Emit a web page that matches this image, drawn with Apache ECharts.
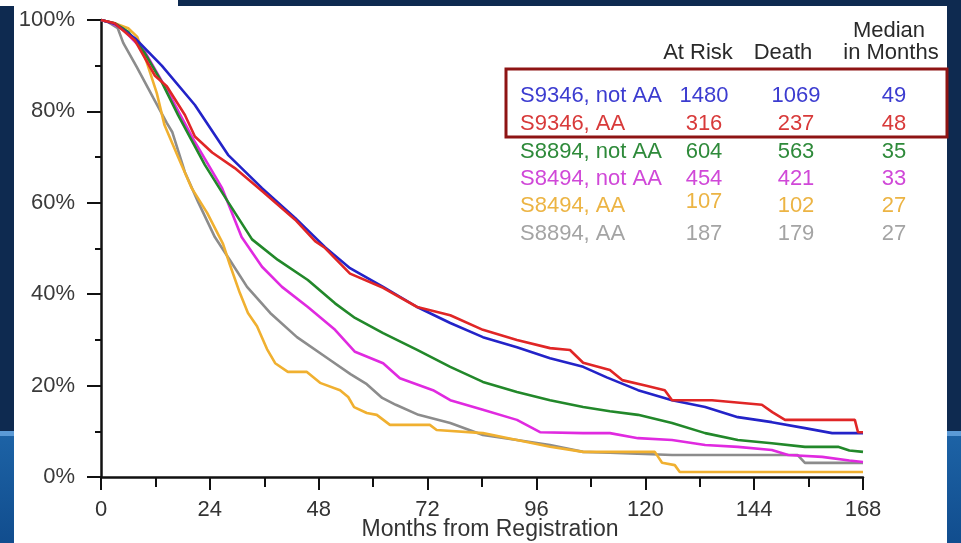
<!DOCTYPE html>
<html>
<head>
<meta charset="utf-8">
<script src="https://cdn.jsdelivr.net/npm/echarts@6/dist/echarts.min.js"></script>
<style>
html, body { margin: 0; padding: 0; background: #fff; }
#main { width: 961px; height: 543px; }
</style>
</head>
<body>
<div id="main"></div>
<script>
var FONT = '"Liberation Sans", Arial, sans-serif';

// table
var groups = ['S9346, not AA', 'S9346, AA', 'S8894, not AA', 'S8494, not AA', 'S8494, AA', 'S8894, AA'];
var atRisk = [1480, 316, 604, 454, 107, 187];
var deaths = [1069, 237, 563, 421, 102, 179];
var medians = [49, 48, 35, 33, 27, 27];
var headers = ['At Risk', 'Death', 'Median', 'in Months'];
var xName = 'Months from Registration';

// survival curves [month, % alive]
var s9346NotAA = [[0,100],[3,99.2],[7.5,96],[13.4,90],[20.7,81.4],[28,70.5],[35.5,63.2],[42.8,56.7],[49.4,50.3],[54.9,45.7],[62.2,41.6],[69.7,37.2],[77,33.7],[84.2,30.6],[91.7,28.4],[99,26],[106.3,24.1],[111.5,21.8],[118.4,19],[125.9,16.8],[133.2,15.3],[140.4,13.1],[147.9,12],[155.2,10.7],[161.2,9.6],[168,9.6]];
var s9346AA = [[0,100],[3,99.3],[7.5,95.5],[11.9,87.8],[14.5,85.5],[18.5,79.2],[20.7,74.5],[24.5,71],[29.5,67.6],[35.5,62.6],[42.8,56.3],[47.2,51.6],[49.4,50.1],[54.9,44.5],[62.2,41.4],[69.7,37.2],[77,35.4],[84.2,32.2],[91.7,30],[99,28.2],[103.4,27.8],[106.3,25],[112.2,23.4],[114.9,21.2],[120,20],[124.3,19],[125.9,16.8],[134.7,16.8],[145.7,15.8],[148,14.2],[150.8,12.5],[166.2,12.5],[166.9,9.8],[168,9.8]];
var s8894NotAA = [[0,100],[3,99.3],[6,97.4],[9.5,93],[13.4,86.4],[17,79.2],[22.9,68.3],[28,60.2],[33.3,52],[39,47.5],[45.6,43.1],[51.6,38],[56,34.8],[62.2,31.5],[69.7,27.8],[77,24.1],[84.2,20.8],[91.7,18.6],[99,16.8],[106.3,15.3],[112.2,14.4],[118.4,13.6],[125.9,11.8],[133.2,9.6],[140.4,8.1],[147.9,7.4],[155.2,6.6],[162.5,6.6],[165,5.8],[168,5.5]];
var s8494NotAA = [[0,100],[2,99.5],[4.6,98.2],[9.7,93],[14.8,84.2],[20.7,73.3],[26.7,63.2],[31,52.5],[35.5,46],[39.9,41.6],[45.6,37.2],[51.6,32.2],[56,27.4],[62.2,24.9],[65.9,21.6],[73.2,19],[77,16.8],[84.2,14.7],[91.7,12.5],[96.8,9.8],[106.3,9.6],[112.2,9.6],[118.4,8.5],[125.9,8.1],[133.2,7],[140.4,6.6],[147.9,5.9],[151.5,4.8],[159,4.4],[165,3.6],[168,3.3]];
var s8494AA = [[0,100],[3,99.3],[6,98.2],[8,96.3],[10,91],[12.3,84],[14,77],[17,70],[20,63.2],[23.4,57.8],[26.9,51],[28.4,46.5],[30.6,40.3],[32.4,35.9],[34.4,33],[36.6,28],[38.4,24.9],[41.2,23],[45.4,23],[48.3,20.6],[52.7,19],[54.5,17.5],[55.8,15.3],[58.6,14],[60.8,13.6],[63.7,11.4],[72.5,11.4],[74,10.3],[84.2,9.6],[91.7,8.1],[99,6.6],[106.3,5.5],[122.1,5.5],[123.7,3.1],[126.5,2.6],[127.6,1.1],[168,1.1]];
var s8894AA = [[0,100],[1.5,99.6],[3.7,98.2],[4.9,95],[7.9,89.7],[11.5,83],[14.5,77.5],[15.7,75.5],[18.5,66.7],[21.4,60.2],[25.1,52.5],[28.4,47.5],[32.2,41.6],[37.3,35.9],[43.2,30.6],[50.5,25.6],[55,22.5],[58.6,20.3],[62,17.3],[65,15.8],[70,13.6],[77,11.8],[84.2,9.2],[91.7,8.1],[99,7],[106.3,5.5],[112.2,5.3],[125.9,4.8],[153.6,4.8],[155.2,3.1],[168,3.1]];

var lineColors = ['#2323c8', '#e02626', '#22882a', '#e02ae0', '#f0b030', '#8c8c8c'];
var textColors = ['#3c3cd0', '#d83a3a', '#2e8a3a', '#d048d8', '#ecb444', '#a4a4a4'];
var curves = [s9346NotAA, s9346AA, s8894NotAA, s8494NotAA, s8494AA, s8894AA];
var drawOrder = [5, 4, 3, 2, 0, 1];

function txt(str, x, y, color, align, size) {
    return {
        type: 'text', z: 10,
        style: {
            text: str, x: x, y: y, fill: color,
            font: (size || 22) + 'px ' + FONT,
            textAlign: align || 'left', textVerticalAlign: 'middle'
        }
    };
}

var lowBlue = function () {
    return new echarts.graphic.LinearGradient(0, 0, 0, 1, [{ offset: 0, color: '#1d63a6' }, { offset: 1, color: '#114d8e' }]);
};

var graphics = [
    // slide frame
    { type: 'rect', shape: { x: 178, y: 0, width: 783, height: 6 }, style: { fill: '#0e2a50' } },
    { type: 'rect', shape: { x: 0, y: 6, width: 14, height: 427 }, style: { fill: '#0e2a50' } },
    { type: 'rect', shape: { x: 947, y: 0, width: 14, height: 433 }, style: { fill: '#0e2a50' } },
    { type: 'rect', shape: { x: 0, y: 433, width: 14, height: 110 }, style: { fill: lowBlue() } },
    { type: 'rect', shape: { x: 947, y: 433, width: 14, height: 110 }, style: { fill: lowBlue() } },
    { type: 'rect', shape: { x: 0, y: 431, width: 14, height: 5 }, style: { fill: '#5b9ad6' } },
    { type: 'rect', shape: { x: 947, y: 431, width: 14, height: 5 }, style: { fill: '#5b9ad6' } },
    // highlight box
    { type: 'rect', z: 11, shape: { x: 506, y: 69, width: 441, height: 68 },
      style: { fill: null, stroke: '#8e1414', lineWidth: 3 } },
    txt(headers[0], 698, 53, '#2a2a2a', 'center'),
    txt(headers[1], 783, 53, '#2a2a2a', 'center'),
    txt(headers[2], 889, 31, '#2a2a2a', 'center'),
    txt(headers[3], 891, 53, '#2a2a2a', 'center')
];
var rowY = [96, 124, 152, 179, 206, 234];
for (var i = 0; i < groups.length; i++) {
    graphics.push(txt(groups[i], 520, rowY[i], textColors[i], 'left'));
    graphics.push(txt(String(atRisk[i]), 704, rowY[i] - (i === 4 ? 4 : 0), textColors[i], 'center'));
    graphics.push(txt(String(deaths[i]), 796, rowY[i], textColors[i], 'center'));
    graphics.push(txt(String(medians[i]), 894, rowY[i], textColors[i], 'center'));
}

var series = drawOrder.map(function (k) {
    return {
        name: groups[k],
        type: 'line',
        data: curves[k],
        showSymbol: false,
        animation: false,
        lineStyle: { color: lineColors[k], width: 2.6 },
        itemStyle: { color: lineColors[k] }
    };
});

var option = {
    backgroundColor: '#fff',
    animation: false,
    grid: { left: 101, right: 98, top: 20, bottom: 66, containLabel: false, outerBoundsMode: 'none' },
    xAxis: {
        type: 'value', min: 0, max: 168, interval: 24,
        name: xName, nameLocation: 'middle', nameGap: 41, nameMoveOverlap: false,
        nameTextStyle: { fontFamily: FONT, fontSize: 23, color: '#333', padding: [0, 0, 0, 16] },
        axisLine: { show: true, lineStyle: { color: '#111', width: 2.5 } },
        axisTick: { show: true, length: 13, lineStyle: { color: '#111', width: 2 } },
        minorTick: { show: true, splitNumber: 2, length: 10, lineStyle: { color: '#111', width: 2 } },
        splitLine: { show: false },
        axisLabel: { fontFamily: FONT, fontSize: 22, color: '#333', margin: 22 }
    },
    yAxis: {
        type: 'value', min: 0, max: 100, interval: 20,
        axisLine: { show: true, lineStyle: { color: '#111', width: 2.5 } },
        axisTick: { show: true, length: 14, lineStyle: { color: '#111', width: 2 } },
        minorTick: { show: true, splitNumber: 2, length: 6, lineStyle: { color: '#111', width: 2 } },
        splitLine: { show: false },
        axisLabel: { fontFamily: FONT, fontSize: 22, color: '#3a3a3a', margin: 26, formatter: '{value}%' }
    },
    graphic: graphics,
    series: series
};

var myChart = echarts.init(document.getElementById('main'));
myChart.setOption(option);
</script>
</body>
</html>
